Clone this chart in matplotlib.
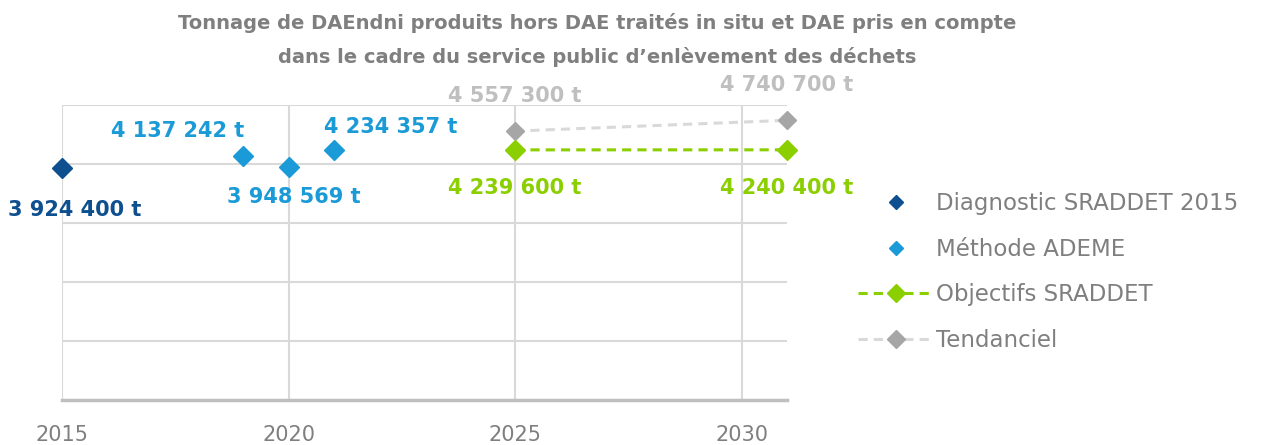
import matplotlib.pyplot as plt
from matplotlib.lines import Line2D

# data
diag_years = [2015]
diag_vals = [3924400]
ademe_years = [2019, 2020, 2021]
ademe_vals = [4137242, 3948569, 4234357]
obj_years = [2025, 2031]
obj_vals = [4239600, 4240400]
tend_years = [2025, 2031]
tend_vals = [4557300, 4740700]
xticks = [2015, 2020, 2025, 2030]

c_diag = '#0E4F8F'
c_ademe = '#1A9AD7'
c_obj = '#8CCF00'
c_tend_line = '#D9D9D9'
c_tend_mark = '#A6A6A6'
c_text = '#7F7F7F'

def fmt(v):
    return f"{v:,}".replace(',', ' ') + ' t'

fig = plt.figure(figsize=(12.64, 4.45), dpi=100)
ax = fig.add_axes([62/1264, 45/445, (787-62)/1264, 295/445])

ax.plot(tend_years, tend_vals, color=c_tend_line, lw=2.2, ls=(0, (3, 2)), zorder=2)
ax.plot(tend_years, tend_vals, 'D', color=c_tend_mark, ms=8.7, zorder=3, clip_on=False)
ax.plot(obj_years, obj_vals, color=c_obj, lw=2.2, ls=(0, (3, 2)), marker='D', ms=10.2,
        zorder=3, clip_on=False)
ax.plot(diag_years, diag_vals, 'D', color=c_diag, ms=10.5, zorder=4, clip_on=False)
ax.plot(ademe_years, ademe_vals, 'D', color=c_ademe, ms=10.5, zorder=4)

ax.set_xlim(2015, 2031)
ax.set_ylim(0, 5000000)
ax.set_xticks(xticks)
ax.set_yticks(range(0, 5000001, 1000000))
ax.set_yticklabels([])
ax.tick_params(length=0, labelsize=15, labelcolor=c_text, pad=18)
ax.grid(True, color='#D9D9D9', lw=1.5)
ax.set_axisbelow(True)
for s in ['top', 'right', 'left']:
    ax.spines[s].set_visible(False)
ax.spines['bottom'].set_color('#BFBFBF')
ax.spines['bottom'].set_linewidth(2.5)

lab = dict(textcoords='offset pixels', ha='center', va='center', fontsize=15, fontweight='bold',
           annotation_clip=False)
ax.annotate(fmt(diag_vals[0]), (diag_years[0], diag_vals[0]), xytext=(13, -42), color=c_diag, **lab)
for (x, v), off in zip(zip(ademe_years, ademe_vals), [(-66, 25), (5, -30), (57, 23)]):
    ax.annotate(fmt(v), (x, v), xytext=off, color=c_ademe, **lab)
for x, v in zip(tend_years, tend_vals):
    ax.annotate(fmt(v), (x, v), xytext=(0, 35), color='#BFBFBF', **lab)
for x, v in zip(obj_years, obj_vals):
    ax.annotate(fmt(v), (x, v), xytext=(0, -38), color=c_obj, **lab)

fig.text(597/1264, 1 - 40/445, "Tonnage de DAEndni produits hors DAE traités in situ et DAE pris en compte\n"
         "dans le cadre du service public d’enlèvement des déchets",
         ha='center', va='center', fontsize=14, fontweight='bold', color=c_text, linespacing=1.9)

handles = [
    Line2D([], [], ls='none', marker='D', color=c_diag, ms=7.6),
    Line2D([], [], ls='none', marker='D', color=c_ademe, ms=7.6),
    Line2D([], [], color=c_obj, lw=2.2, ls=(0, (3, 2)), marker='D', ms=9),
    Line2D([], [], color=c_tend_line, lw=2.2, ls=(0, (3, 2)), marker='D', ms=9,
           mfc=c_tend_mark, mec=c_tend_mark),
]
labels = ['Diagnostic SRADDET 2015', 'Méthode ADEME', 'Objectifs SRADDET', 'Tendanciel']
fig.legend(handles, labels, loc='upper left', bbox_to_anchor=(837/1264, 1 - 171/445),
           frameon=False, fontsize=16.5, labelcolor=c_text, handlelength=3.35,
           handletextpad=0.05, labelspacing=1.0)

fig.savefig('out.png', dpi=100)
